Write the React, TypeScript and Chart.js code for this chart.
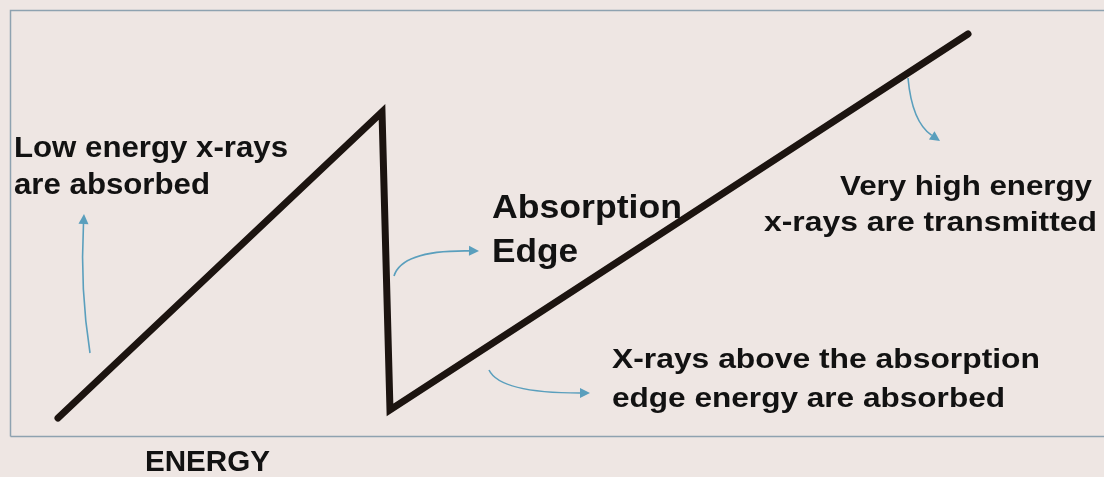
import React, { useEffect, useRef } from "react";
import { Chart, registerables } from "chart.js";

Chart.register(...registerables);

// Energy (x) and absorption (y) of the curve's corner points
const energy = [58, 382, 390, 968];
const absorption = [59, 365, 67, 443];

const labels = [
  { lines: ["Low energy x-rays", "are absorbed"] },
  { lines: ["Absorption", "Edge"] },
  { lines: ["Very high energy", "x-rays are transmitted"] },
  { lines: ["X-rays above the absorption", "edge energy are absorbed"] },
  { lines: ["ENERGY"] },
];

// layout for the text pieces: [x, baseline, size, width, align]
const textLayout: [number, number, number, number, string][][] = [
  [[14, 157, 29, 274, "left"], [14, 194, 29, 196, "left"]],
  [[492, 218, 33, 190, "left"], [492, 262, 33, 86, "left"]],
  [[1092, 195, 28, 252, "right"], [1097, 231, 28, 333, "right"]],
  [[612, 368, 28, 428, "left"], [612, 407, 28, 393, "left"]],
  [[145, 471, 29, 125, "left"]],
];

// arrows: tail, control, tip
const arrows = [
  [[90, 353], [80, 290], [84, 214]],
  [[394, 276], [402, 250], [479, 251]],
  [[489, 370], [500, 393], [590, 393]],
  [[908, 78], [912, 122], [940, 141]],
];

const BG = "#eee6e3";

function drawArrow(ctx: CanvasRenderingContext2D, a: number[][]) {
  const [t, c, p] = a;
  const color = "#5a9fbd";
  const dx = p[0] - c[0];
  const dy = p[1] - c[1];
  const len = Math.hypot(dx, dy);
  const ux = dx / len;
  const uy = dy / len;
  const headLen = 10;
  const headW = 5;
  const ex = p[0] - ux * headLen;
  const ey = p[1] - uy * headLen;
  ctx.save();
  ctx.strokeStyle = color;
  ctx.lineWidth = 1.6;
  ctx.beginPath();
  ctx.moveTo(t[0], t[1]);
  ctx.quadraticCurveTo(c[0], c[1], ex, ey);
  ctx.stroke();
  ctx.fillStyle = color;
  ctx.beginPath();
  ctx.moveTo(p[0], p[1]);
  ctx.lineTo(ex - uy * headW, ey + ux * headW);
  ctx.lineTo(ex + uy * headW, ey - ux * headW);
  ctx.closePath();
  ctx.fill();
  ctx.restore();
}

function drawFit(
  ctx: CanvasRenderingContext2D,
  text: string,
  x: number,
  y: number,
  size: number,
  width: number,
  align: string
) {
  ctx.font = `bold ${size}px "Liberation Sans", Arial, sans-serif`;
  const w = ctx.measureText(text).width;
  const sx = width / w;
  ctx.save();
  ctx.translate(align === "right" ? x - width : x, y);
  ctx.scale(sx, 1);
  ctx.textAlign = "left";
  ctx.textBaseline = "alphabetic";
  ctx.fillStyle = "#121212";
  ctx.fillText(text, 0, 0);
  ctx.restore();
}

const decor = {
  id: "decor",
  beforeDraw(chart: any) {
    const ctx = chart.ctx as CanvasRenderingContext2D;
    ctx.save();
    ctx.fillStyle = BG;
    ctx.fillRect(0, 0, chart.width, chart.height);
    ctx.strokeStyle = "#8ea2b0";
    ctx.lineWidth = 1.5;
    ctx.beginPath();
    ctx.moveTo(10.5, 436.5);
    ctx.lineTo(10.5, 10.5);
    ctx.lineTo(1104, 10.5);
    ctx.moveTo(10.5, 436.5);
    ctx.lineTo(1104, 436.5);
    ctx.stroke();
    ctx.restore();
  },
  afterDatasetsDraw(chart: any) {
    const ctx = chart.ctx as CanvasRenderingContext2D;
    arrows.forEach((a) => drawArrow(ctx, a));
    labels.forEach((l, i) => {
      l.lines.forEach((line, j) => {
        const [x, y, s, w, al] = textLayout[i][j];
        drawFit(ctx, line, x, y, s, w, al);
      });
    });
  },
};

export default function App() {
  const ref = useRef<HTMLCanvasElement | null>(null);
  useEffect(() => {
    if (!ref.current) return;
    const chart = new Chart(ref.current, {
      type: "line",
      data: {
        datasets: [
          {
            data: energy.map((e, i) => ({ x: e, y: absorption[i] })),
            borderColor: "#1c1410",
            borderWidth: 7,
            pointRadius: 0,
            tension: 0,
            borderCapStyle: "round",
            borderJoinStyle: "miter",
            fill: false,
          },
        ],
      },
      options: {
        animation: false,
        responsive: false,
        maintainAspectRatio: false,
        layout: { padding: 0 },
        plugins: { legend: { display: false }, tooltip: { enabled: false } },
        scales: {
          x: { type: "linear", min: 0, max: 1104, display: false },
          y: { type: "linear", min: 0, max: 477, display: false },
        },
        events: [],
      },
      plugins: [decor],
    });
    return () => chart.destroy();
  }, []);
  return (
    <div style={{ position: "fixed", left: 0, top: 0, width: 1104, height: 477, background: BG }}>
      <canvas ref={ref} width={1104} height={477} style={{ display: "block" }} />
    </div>
  );
}
